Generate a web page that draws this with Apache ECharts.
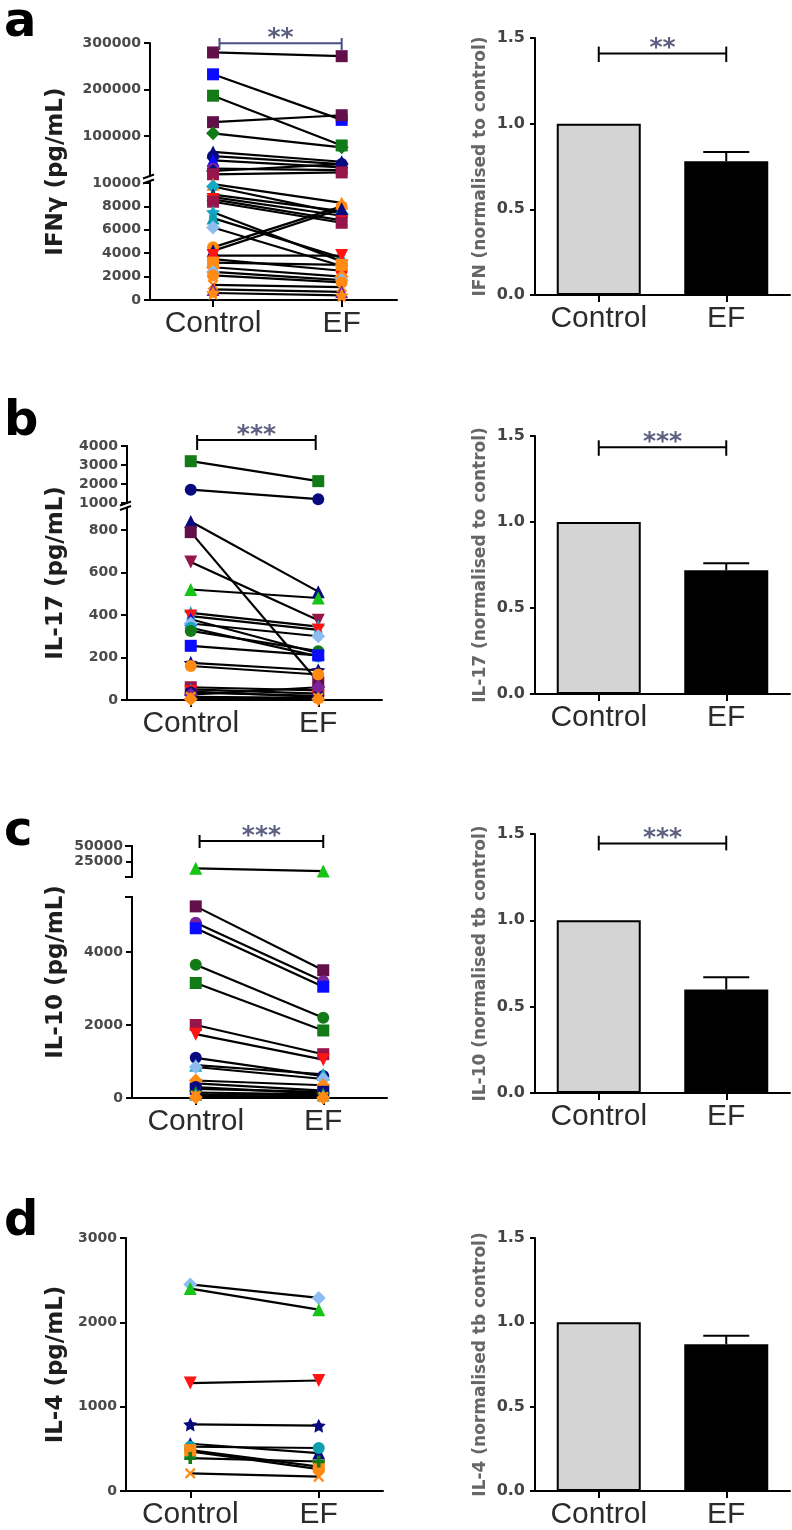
<!DOCTYPE html>
<html><head><meta charset="utf-8">
<script src="https://cdn.jsdelivr.net/npm/echarts@6/dist/echarts.min.js"></script>
<style>html,body{margin:0;padding:0;background:#fff}#c{width:792px;height:1530px}</style>
</head><body><div id="c"></div>
<script>
// ---------------- DATA ----------------
const groups = ['Control', 'EF'];

// (a) IFN-gamma, pg/mL
const ifnControl = [280000, 233000, 187000, 130000, 106000, 66000, 57000, 48000, 30000, 25000, 18000, 9900, 9700, 9000, 8800, 8600, 8400, 7500, 7000, 6200, 4500, 4200, 3800, 3500, 3200, 2800, 2400, 2100, 1300, 900, 600];
const ifnEF      = [272000, 135000, 80000, 145000, 76000, 45000, 40000, 33000, 27000, 40000, 22000, 8300, 7400, 7600, 7200, 6800, 6600, 3300, 3600, 2900, 8000, 7800, 3800, 2500, 3000, 2000, 1700, 1500, 1100, 700, 400];
const ifnTicks   = [0, 2000, 4000, 6000, 8000, 10000, 100000, 200000, 300000];

// (b) IL-17, pg/mL
const il17Control = [3200, 1700, 840, 790, 650, 520, 410, 395, 380, 360, 340, 325, 255, 175, 160, 60, 50, 40, 35, 25, 15, 5];
const il17EF      = [2150, 1200, 510, 85, 375, 480, 345, 330, 220, 300, 205, 230, 210, 140, 120, 45, 30, 15, 20, 60, 10, 5];
const il17Ticks   = [0, 200, 400, 600, 800, 1000, 2000, 3000, 4000];

// (c) IL-10, pg/mL
const il10Control = [14000, 5250, 4800, 4650, 3650, 3150, 2000, 1750, 1100, 900, 850, 480, 400, 300, 250, 150, 100, 60, 20];
const il10EF      = [9500, 3500, 3200, 3050, 2200, 1850, 1200, 1050, 600, 650, 520, 350, 200, 120, 170, 100, 80, 30, 10];
const il10Ticks   = [0, 2000, 4000, 25000, 50000];

// (d) IL-4, pg/mL
const il4Control = [2450, 2400, 1280, 790, 560, 525, 485, 470, 390, 210];
const il4EF      = [2290, 2150, 1310, 775, 450, 510, 290, 260, 350, 170];
const il4Ticks   = [0, 1000, 2000, 3000];

// normalised to control (mean, SEM)
const normTicks   = [0, 0.5, 1.0, 1.5];
const ifnNorm     = [1.0, 0.78];  const ifnNormSEM  = [0, 0.055];
const il17Norm    = [1.0, 0.72];  const il17NormSEM = [0, 0.04];
const il10Norm    = [1.0, 0.60];  const il10NormSEM = [0, 0.07];
const il4Norm     = [1.0, 0.87];  const il4NormSEM  = [0, 0.05];

const ifnSig = '**', il17Sig = '***', il10Sig = '***';

// ---------------- STYLES ----------------
const COL = {maroon:'#62104a', crimson:'#96154a', blue:'#0a0aff', green:'#137a18', lime:'#17c317', navy:'#0a0a80',
  purple:'#7a249c', red:'#ff1414', orange:'#ff8a14', cyan:'#14a8c4', teal:'#0e9eae', lightblue:'#8cbcf0'};
const ifnSymbols = ['sq','sq','sq','sq','di','tu','ci','tu','ci','di','sq','tu','di','tu','st','td','sq','st','tu','di','ci','tu','td','ci','sq','di','di','ci','x','tu','st'];
const ifnColors  = ['maroon','blue','green','maroon','green','navy','navy','blue','purple','navy','crimson','orange','cyan','navy','green','red','crimson','cyan','teal','lightblue','orange','navy','red','red','orange','orange','lightblue','orange','orange','purple','orange'];
const il17Symbols = ['sq','ci','tu','sq','td','tu','st','td','tu','di','ci','ci','sq','st','ci','sq','tu','td','ci','di','x','di'];
const il17Colors  = ['green','navy','navy','maroon','crimson','lime','cyan','red','blue','lightblue','cyan','green','blue','navy','orange','crimson','teal','red','navy','purple','orange','orange'];
const il10Symbols = ['tu','sq','ci','sq','ci','sq','sq','td','ci','tu','di','di','ci','ci','sq','st','tu','x','di'];
const il10Colors  = ['lime','maroon','purple','blue','green','green','crimson','red','navy','cyan','lightblue','orange','orange','navy','navy','green','teal','orange','orange'];
const il4Symbols = ['di','tu','td','st','tu','ci','sq','ci','pl','x'];
const il4Colors  = ['lightblue','lime','red','navy','navy','teal','orange','orange','green','orange'];

const SYM = {
  sq:{symbol:'rect', size:12, rot:0},
  ci:{symbol:'circle', size:12, rot:0},
  tu:{symbol:'triangle', size:13, rot:0},
  td:{symbol:'triangle', size:13, rot:180},
  di:{symbol:'diamond', size:14, rot:0},
  st:{symbol:'path://M0,-10L2.94,-4.05L9.51,-3.09L4.76,1.55L5.88,8.09L0,5L-5.88,8.09L-4.76,1.55L-9.51,-3.09L-2.94,-4.05Z', size:14, rot:0},
  x:{symbol:'path://M-10,-7L-7,-10L0,-3L7,-10L10,-7L3,0L10,7L7,10L0,3L-7,10L-10,7L-3,0Z', size:11, rot:0},
  pl:{symbol:'path://M-3,-10H3V-3H10V3H3V10H-3V3H-10V-3H-3Z', size:12, rot:0}
};

// piecewise (broken) axis scales: display units = pixels above the x axis
function fwd(s, v) { return (s.lowMax === undefined || v <= s.lowMax) ? v * s.lowK : s.upBase + (v - s.upStart) * s.upK; }

const leftPanels = [
  {ctrl:ifnControl, ef:ifnEF, sym:ifnSymbols, col:ifnColors, ticks:ifnTicks, name:'IFNγ (pg/mL)', sig:ifnSig,
   x:150, bottom:300, w:247, xMin:-0.49, xMax:1.43,
   scale:{lowMax:10000, lowK:0.0117, upBase:122, upStart:10000, upK:0.000465},
   segs:[[0, 118.5, 0, 1], [123.5, null, 1, 0]], bracket:[0.05, 1, 256.7, 250, 262], bracketColor:'#4a4e86'},
  {ctrl:il17Control, ef:il17EF, sym:il17Symbols, col:il17Colors, ticks:il17Ticks, name:'IL-17 (pg/mL)', sig:il17Sig,
   x:127, bottom:700, w:255, xMin:-0.5, xMax:1.5,
   scale:{lowMax:900, lowK:0.2125, upBase:197, upStart:1000, upK:0.019},
   segs:[[0, 192, 0, 1], [196.5, null, 1, 0]], bracket:[0.05, 0.98, 260, 250, 265], bracketColor:'#000'},
  {ctrl:il10Control, ef:il10EF, sym:il10Symbols, col:il10Colors, ticks:il10Ticks, name:'IL-10 (pg/mL)', sig:il10Sig,
   x:132, bottom:1098, w:255, xMin:-0.5, xMax:1.5,
   scale:{lowMax:5500, lowK:0.0365, upBase:221, upStart:0, upK:0.00062},
   segs:[[0, 201, 0, 2], [221, null, 2, 2]], bracket:[0.03, 1, 257, 250, 263], bracketColor:'#000'},
  {ctrl:il4Control, ef:il4EF, sym:il4Symbols, col:il4Colors, ticks:il4Ticks, name:'IL-4 (pg/mL)', sig:null,
   x:126, bottom:1493, w:257, xMin:-0.5, xMax:1.5,
   scale:{lowK:0.085}, segs:null, bracket:null}
];
const rightPanels = [
  {norm:ifnNorm, sem:ifnNormSEM, name:'IFN (normalised to control)', sig:ifnSig, top:38, bottom:295, bracket:[0,1,1.41,1.36,1.45]},
  {norm:il17Norm, sem:il17NormSEM, name:'IL-17 (normalised to control)', sig:il17Sig, top:436, bottom:694, bracket:[0,1,1.435,1.385,1.475]},
  {norm:il10Norm, sem:il10NormSEM, name:'IL-10 (normalised tb control)', sig:il10Sig, top:834, bottom:1093, bracket:[0,1,1.445,1.405,1.49]},
  {norm:il4Norm, sem:il4NormSEM, name:'IL-4 (normalised tb control)', sig:null, top:1238, bottom:1493, bracket:null}
];
const letters = [{t:'a', top:0}, {t:'b', top:399}, {t:'c', top:809}, {t:'d', top:1199}];

// ---------------- BUILD ----------------
const grid = [], xAxis = [], yAxis = [], series = [];
const AX = {color:'#000', width:2};
const catLabel = {fontFamily:'Liberation Sans', fontSize:30, color:'#2b2b2b', margin:9};

function bracketRenderer(color, text) {
  return function (params, api) {
    const x0 = api.value(0), x1 = api.value(1), lv = api.value(2), lo = api.value(3), hi = api.value(4);
    const p0 = api.coord([x0, lv]), p1 = api.coord([x1, lv]);
    const yLo = api.coord([x0, lo])[1], yHi = api.coord([x0, hi])[1];
    const st = {stroke:color, lineWidth:2};
    return {type:'group', children:[
      {type:'line', shape:{x1:p0[0], y1:p0[1], x2:p1[0], y2:p1[1]}, style:st},
      {type:'line', shape:{x1:p0[0], y1:yLo, x2:p0[0], y2:yHi}, style:st},
      {type:'line', shape:{x1:p1[0], y1:yLo, x2:p1[0], y2:yHi}, style:st},
      {type:'text', x:(p0[0] + p1[0]) / 2, y:p0[1] - 5,
       style:{text:text, fill:'#5c5f80', font:'bold 25px "DejaVu Sans"', align:'center', verticalAlign:'middle'}}
    ]};
  };
}

leftPanels.forEach((P, i) => {
  const g = grid.length;
  const s = P.scale;
  const H = fwd(s, P.ticks[P.ticks.length - 1]);
  grid.push({left:P.x, top:P.bottom - H, width:P.w, height:H});
  const tickD = P.ticks.map(v => fwd(s, v));
  const labelOf = {};
  P.ticks.forEach((v, k) => { labelOf[tickD[k].toFixed(2)] = String(v); });
  xAxis.push({type:'value', gridIndex:g, min:P.xMin, max:P.xMax,
    axisLine:{show:true, onZero:false, lineStyle:AX},
    axisTick:{show:true, customValues:[0, 1], length:7, lineStyle:AX},
    axisLabel:Object.assign({customValues:[0, 1], formatter:v => groups[Math.round(v)]}, catLabel),
    splitLine:{show:false}});
  yAxis.push({type:'value', gridIndex:g, min:0, max:H,
    axisLine:{show:!P.segs, onZero:false, lineStyle:AX},
    axisTick:{show:true, customValues:tickD, length:6, lineStyle:AX},
    axisLabel:{customValues:tickD, formatter:v => labelOf[Number(v).toFixed(2)] || '',
      fontFamily:'DejaVu Sans', fontWeight:'bold', fontSize:14, color:'#4a4a4a', margin:9},
    splitLine:{show:false},
    name:P.name, nameLocation:'middle', nameGap:P.x - 56 - 11.5, nameMoveOverlap:false,
    nameTextStyle:{fontFamily:'DejaVu Sans', fontWeight:'bold', fontSize:23, color:'#1e1e1e'}});
  // connecting lines
  P.ctrl.forEach((c, k) => {
    series.push({type:'line', xAxisIndex:g, yAxisIndex:g, silent:true, symbol:'none', z:2,
      lineStyle:{color:'#000', width:2.2}, data:[[0, fwd(s, c)], [1, fwd(s, P.ef[k])]]});
  });
  // markers
  const pts = [];
  P.ctrl.forEach((c, k) => {
    const sy = SYM[P.sym[k]];
    [[0, c], [1, P.ef[k]]].forEach(([x, v]) => {
      pts.push({value:[x, fwd(s, v)], symbol:sy.symbol, symbolSize:sy.size, symbolRotate:sy.rot,
        itemStyle:{color:COL[P.col[k]], opacity:1}});
    });
  });
  series.push({type:'scatter', xAxisIndex:g, yAxisIndex:g, silent:true, z:3, itemStyle:{opacity:1}, data:pts});
  // broken y axis line
  if (P.segs) {
    const xMin = P.xMin;
    series.push({type:'custom', xAxisIndex:g, yAxisIndex:g, silent:true, clip:false, z:4,
      data:P.segs.map(sg => [sg[0], sg[1] === null ? H : sg[1], sg[2], sg[3]]),
      renderItem:function (params, api) {
        const lo = api.value(0), hi = api.value(1), mLo = api.value(2), mHi = api.value(3);
        const a = api.coord([xMin, lo]), b = api.coord([xMin, hi]);
        const st = {stroke:'#000', lineWidth:2};
        const ch = [{type:'line', shape:{x1:a[0], y1:a[1] + (lo === 0 ? 1 : 0), x2:b[0], y2:b[1] - (mHi === 0 ? 1 : 0)}, style:st}];
        [[a, mLo], [b, mHi]].forEach(([p, m]) => {
          if (m === 1) ch.push({type:'line', shape:{x1:p[0] - 7, y1:p[1] + 2, x2:p[0] + 4, y2:p[1] - 2}, style:st});
          if (m === 2) ch.push({type:'line', shape:{x1:p[0] - 7, y1:p[1], x2:p[0] + 1, y2:p[1]}, style:st});
        });
        return {type:'group', children:ch};
      }});
  }
  if (P.bracket) {
    series.push({type:'custom', xAxisIndex:g, yAxisIndex:g, silent:true, clip:false, z:5,
      data:[P.bracket], renderItem:bracketRenderer(P.bracketColor, P.sig)});
  }
});

rightPanels.forEach((R) => {
  const g = grid.length;
  grid.push({left:535, top:R.top, width:255, height:R.bottom - R.top});
  xAxis.push({type:'category', gridIndex:g, data:groups,
    axisLine:{show:true, lineStyle:AX}, axisTick:{show:true, alignWithLabel:true, length:7, lineStyle:AX},
    axisLabel:Object.assign({}, catLabel), splitLine:{show:false}});
  yAxis.push({type:'value', gridIndex:g, min:normTicks[0], max:normTicks[normTicks.length - 1], interval:0.5,
    axisLine:{show:true, lineStyle:AX}, axisTick:{show:true, length:5, lineStyle:AX},
    axisLabel:{formatter:v => Number(v).toFixed(1), fontFamily:'DejaVu Sans', fontWeight:'bold', fontSize:16, color:'#444', margin:10},
    splitLine:{show:false},
    name:R.name, nameLocation:'middle', nameGap:46, nameMoveOverlap:false,
    nameTextStyle:{fontFamily:'DejaVu Sans', fontWeight:'bold', fontSize:17, color:'#666'}});
  series.push({type:'bar', xAxisIndex:g, yAxisIndex:g, silent:true, barWidth:84, z:2,
    data:[{value:R.norm[0], itemStyle:{color:'#d4d4d4', borderColor:'#000', borderWidth:2}},
          {value:R.norm[1], itemStyle:{color:'#000', borderColor:'#000', borderWidth:2}}]});
  series.push({type:'custom', xAxisIndex:g, yAxisIndex:g, silent:true, clip:false, z:3,
    data:[[1, R.norm[1], R.norm[1] + R.sem[1]]],
    renderItem:function (params, api) {
      const a = api.coord([api.value(0), api.value(1)]), b = api.coord([api.value(0), api.value(2)]);
      const st = {stroke:'#000', lineWidth:2};
      return {type:'group', children:[
        {type:'line', shape:{x1:a[0], y1:a[1], x2:b[0], y2:b[1]}, style:st},
        {type:'line', shape:{x1:b[0] - 23, y1:b[1], x2:b[0] + 23, y2:b[1]}, style:st}]};
    }});
  if (R.bracket) {
    series.push({type:'custom', xAxisIndex:g, yAxisIndex:g, silent:true, clip:false, z:5,
      data:[R.bracket], renderItem:bracketRenderer('#000', R.sig)});
  }
});

const option = {
  animation:false,
  backgroundColor:'#fff',
  title:letters.map(L => ({text:L.t, left:4, top:L.top, padding:0,
    textStyle:{fontFamily:'DejaVu Sans', fontWeight:'bold', fontSize:48, color:'#000'}})),
  grid, xAxis, yAxis, series
};
const chart = echarts.init(document.getElementById('c'), null, {renderer:'canvas'});
chart.setOption(option);
</script></body></html>
